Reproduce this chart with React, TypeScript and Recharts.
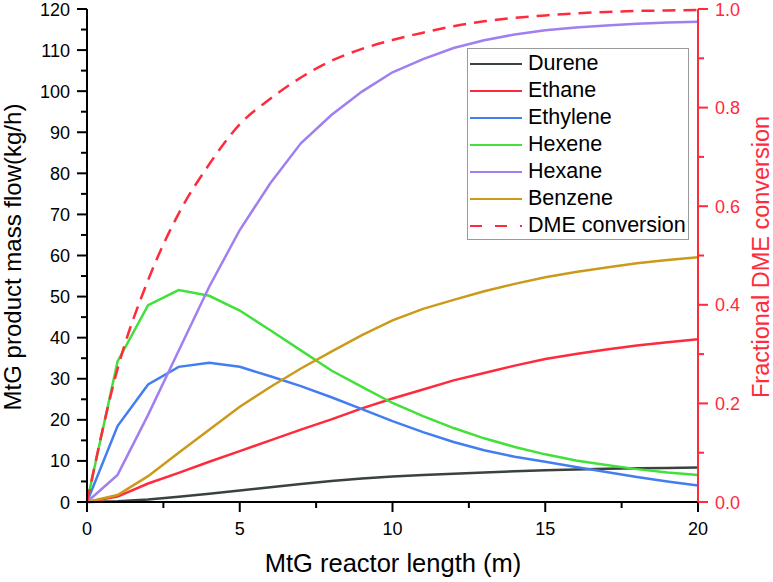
import React from "react";
import { LineChart, Line, XAxis, YAxis, Legend } from "recharts";

/* ---------- DATA ---------- */

const lengths = [0, 1, 2, 3, 4, 5, 6, 7, 8, 9, 10, 11, 12, 13, 14, 15, 16, 17, 18, 19, 20];

const durene = [0, 0.2, 0.6, 1.3, 2.0, 2.8, 3.6, 4.4, 5.1, 5.7, 6.2, 6.6, 6.9, 7.2, 7.5, 7.7, 7.9, 8.1, 8.2, 8.3, 8.4];
const ethane = [0, 1.3, 4.5, 7.1, 9.8, 12.4, 15.0, 17.6, 20.1, 22.8, 25.2, 27.4, 29.6, 31.4, 33.2, 34.8, 36.0, 37.1, 38.1, 38.9, 39.6];
const ethylene = [0, 18.5, 28.6, 32.9, 33.9, 32.9, 30.6, 28.2, 25.5, 22.6, 19.7, 17.0, 14.6, 12.6, 11.0, 9.8, 8.5, 7.3, 6.1, 5.0, 4.0];
const hexene = [0, 34.2, 47.9, 51.6, 50.2, 46.6, 41.8, 36.9, 32.0, 28.0, 24.1, 20.9, 18.0, 15.5, 13.4, 11.6, 10.1, 9.0, 8.0, 7.2, 6.6];
const hexane = [0, 6.6, 21.2, 36.8, 52.4, 66.2, 77.6, 87.3, 94.2, 99.9, 104.6, 107.8, 110.5, 112.4, 113.8, 114.8, 115.5, 116.0, 116.4, 116.7, 116.9];
const benzene = [0, 1.7, 6.3, 12.0, 17.6, 23.2, 28.0, 32.5, 36.6, 40.6, 44.2, 47.0, 49.2, 51.3, 53.1, 54.7, 56.0, 57.1, 58.1, 58.9, 59.6];
const dmeConversion = [0, 0.27, 0.45, 0.585, 0.685, 0.766, 0.818, 0.861, 0.895, 0.919, 0.937, 0.952, 0.965, 0.975, 0.982, 0.987, 0.991, 0.994, 0.996, 0.997, 0.998];

const seriesNames = ["Durene", "Ethane", "Ethylene", "Hexene", "Hexane", "Benzene", "DME conversion"];

const xTicks = [0, 2.5, 5, 7.5, 10, 12.5, 15, 17.5, 20];
const xMajor = [0, 5, 10, 15, 20];
const leftTicks = [0, 5, 10, 15, 20, 25, 30, 35, 40, 45, 50, 55, 60, 65, 70, 75, 80, 85, 90, 95, 100, 105, 110, 115, 120];
const rightTicks = [0, 0.1, 0.2, 0.3, 0.4, 0.5, 0.6, 0.7, 0.8, 0.9, 1.0];

const chartData = lengths.map((x, i) => ({
  x,
  durene: durene[i],
  ethane: ethane[i],
  ethylene: ethylene[i],
  hexene: hexene[i],
  hexane: hexane[i],
  benzene: benzene[i],
  dme: dmeConversion[i]
}));

/* ---------- STYLE ---------- */

const FONT = "'Liberation Sans', Arial, Helvetica, sans-serif";
const RED = "#ff2a3c";
const TICK_FONT = 18;

/* ---------- TICKS ---------- */

function BottomTick({ x, y, payload }: any) {
  const major = xMajor.includes(payload.value);
  return (
    <g>
      <line x1={x} x2={x} y1={y} y2={y + (major ? 10 : 6)} stroke="#000" strokeWidth={2} />
      {major && (
        <text x={x} y={y + 33} textAnchor="middle" fontSize={TICK_FONT} fontFamily={FONT} fill="#000">
          {payload.value}
        </text>
      )}
    </g>
  );
}

function TopTick({ x, y, payload }: any) {
  const major = xMajor.includes(payload.value);
  return <line x1={x} x2={x} y1={y} y2={y + (major ? 8 : 4)} stroke="#000" strokeWidth={2} />;
}

function LeftTick({ x, y, payload }: any) {
  const major = payload.value % 10 === 0;
  return (
    <g>
      <line x1={x - (major ? 10 : 6)} x2={x} y1={y} y2={y} stroke="#000" strokeWidth={2} />
      {major && (
        <text x={x - 17} y={y + 6.5} textAnchor="end" fontSize={TICK_FONT} fontFamily={FONT} fill="#000">
          {payload.value}
        </text>
      )}
    </g>
  );
}

function RightTick({ x, y, payload }: any) {
  const major = Math.round(payload.value * 10) % 2 === 0;
  return (
    <g>
      <line x1={x} x2={x + (major ? 10 : 6)} y1={y} y2={y} stroke={RED} strokeWidth={2} />
      {major && (
        <text x={x + 17} y={y + 6.5} textAnchor="start" fontSize={TICK_FONT} fontFamily={FONT} fill={RED}>
          {payload.value.toFixed(1)}
        </text>
      )}
    </g>
  );
}

/* ---------- LEGEND ---------- */

function LegendBox({ payload }: any) {
  const items = [...(payload || [])].sort(
    (a: any, b: any) => seriesNames.indexOf(a.value) - seriesNames.indexOf(b.value)
  );
  return (
    <div
      style={{
        border: "1.5px solid #9a9a9a",
        background: "#fff",
        width: 222,
        height: 192,
        boxSizing: "border-box",
        paddingTop: 1,
        fontFamily: FONT
      }}
    >
      {items.map((entry: any) => (
        <div key={entry.value} style={{ display: "flex", alignItems: "center", height: 27 }}>
          <svg width={54} height={10} style={{ marginLeft: 1 }}>
            <line
              x1={1}
              x2={53}
              y1={5}
              y2={5}
              stroke={entry.color}
              strokeWidth={2.2}
              strokeDasharray={entry.payload?.strokeDasharray ? "12 13" : undefined}
            />
          </svg>
          <span style={{ marginLeft: 5, fontSize: 21.5, color: "#000", lineHeight: "27px" }}>
            {entry.value}
          </span>
        </div>
      ))}
    </div>
  );
}

/* ---------- MAIN ---------- */

export default function App() {
  return (
    <div style={{ position: "absolute", left: 0, top: 0, width: 773, height: 582, background: "#fff" }}>
      <LineChart
        width={773}
        height={582}
        data={chartData}
        margin={{ top: 9, right: 0, bottom: 0, left: 0 }}
      >
        <XAxis
          dataKey="x"
          type="number"
          domain={[0, 20]}
          ticks={xTicks}
          interval={0}
          height={80}
          tickSize={0}
          tickMargin={0}
          tickLine={false}
          tick={<BottomTick />}
          axisLine={{ stroke: "#000", strokeWidth: 2 }}
        />
        <XAxis
          xAxisId="top"
          orientation="top"
          dataKey="x"
          type="number"
          domain={[0, 20]}
          ticks={xTicks}
          interval={0}
          height={0}
          tickSize={0}
          tickMargin={0}
          tickLine={false}
          tick={<TopTick />}
          axisLine={{ stroke: "#000", strokeWidth: 2 }}
        />
        <YAxis
          yAxisId="left"
          domain={[0, 120]}
          ticks={leftTicks}
          interval={0}
          width={87}
          tickSize={0}
          tickMargin={0}
          tickLine={false}
          tick={<LeftTick />}
          axisLine={{ stroke: "#000", strokeWidth: 2 }}
        />
        <YAxis
          yAxisId="right"
          orientation="right"
          domain={[0, 1]}
          ticks={rightTicks}
          interval={0}
          width={75}
          tickSize={0}
          tickMargin={0}
          tickLine={false}
          tick={<RightTick />}
          axisLine={{ stroke: RED, strokeWidth: 2 }}
        />

        <Legend
          layout="horizontal"
          verticalAlign="middle"
          align="center"
          content={<LegendBox />}
          wrapperStyle={{ position: "absolute", left: 467, top: 48, width: 222, height: 192 }}
        />

        <Line yAxisId="left" name="Durene" dataKey="durene" type="linear" stroke="#3a4141" strokeWidth={2.5} dot={false} isAnimationActive={false} />
        <Line yAxisId="left" name="Ethane" dataKey="ethane" type="linear" stroke="#ff2a3c" strokeWidth={2.5} dot={false} isAnimationActive={false} />
        <Line yAxisId="left" name="Ethylene" dataKey="ethylene" type="linear" stroke="#437ef0" strokeWidth={2.5} dot={false} isAnimationActive={false} />
        <Line yAxisId="left" name="Hexene" dataKey="hexene" type="linear" stroke="#42e03a" strokeWidth={2.5} dot={false} isAnimationActive={false} />
        <Line yAxisId="left" name="Hexane" dataKey="hexane" type="linear" stroke="#a07ff0" strokeWidth={2.5} dot={false} isAnimationActive={false} />
        <Line yAxisId="left" name="Benzene" dataKey="benzene" type="linear" stroke="#cc9a1a" strokeWidth={2.5} dot={false} isAnimationActive={false} />
        <Line yAxisId="right" name="DME conversion" dataKey="dme" type="monotone" stroke={RED} strokeWidth={2.5} strokeDasharray="13 8" dot={false} isAnimationActive={false} />

        {/* AXIS TITLES */}

        <text x={393} y={572} textAnchor="middle" fontSize={25.5} fontFamily={FONT} fill="#000">
          MtG reactor length (m)
        </text>
        <text transform="translate(21,257) rotate(-90)" textAnchor="middle" fontSize={24} fontFamily={FONT} fill="#000">
          MtG product mass flow(kg/h)
        </text>
        <text transform="translate(769,257) rotate(-90)" textAnchor="middle" fontSize={23.5} fontFamily={FONT} fill={RED}>
          Fractional DME conversion
        </text>
      </LineChart>
    </div>
  );
}
